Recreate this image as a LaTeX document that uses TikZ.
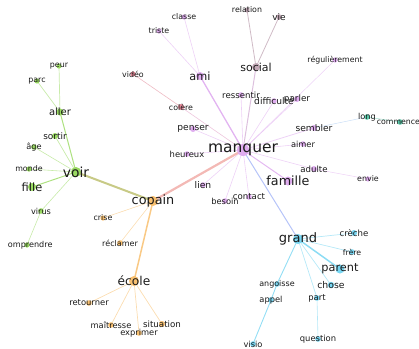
\documentclass[tikz,border=0pt]{standalone}
\usepackage{fontspec}
\setmainfont{DejaVu Sans}
\definecolor{purp}{HTML}{DFACEF}
\definecolor{gry}{HTML}{C4AAB8}
\definecolor{redp}{HTML}{E08494}
\definecolor{teal}{HTML}{58C8A8}
\definecolor{grn}{HTML}{9ADA62}
\definecolor{orng}{HTML}{F8C070}
\definecolor{blu}{HTML}{78D6F2}
\definecolor{txt}{HTML}{1A1A1A}
\newcommand\fs[1]{\fontsize{#1}{#1}\selectfont}
\tikzset{
  lbl/.style={inner sep=0pt, text=txt},
  ed/.style={line width=0.6pt, opacity=0.55},
  edm/.style={line width=1pt, opacity=0.75},
  edt/.style={line width=2pt, opacity=0.85},
}
\begin{document}
\begin{tikzpicture}[x=1pt,y=-1pt]
\useasboundingbox (0,0) rectangle (419,348);
\clip (0,0) rectangle (419,348);
% positions
\coordinate (manquer) at (243,150);
\coordinate (ami) at (200,76);
\coordinate (classe) at (184,17);
\coordinate (triste) at (159,31);
\coordinate (social) at (256,67);
\coordinate (relation) at (247,10);
\coordinate (vie) at (279,17);
\coordinate (video) at (133,74);
\coordinate (colere) at (181,107);
\coordinate (penser) at (193,129);
\coordinate (heureux) at (187,154);
\coordinate (ressentir) at (241,95);
\coordinate (difficulte) at (274,101);
\coordinate (parler) at (297,99);
\coordinate (regulierement) at (335,60);
\coordinate (long) at (367,117);
\coordinate (commencer) at (400,122);
\coordinate (sembler) at (314,128);
\coordinate (aimer) at (303,144);
\coordinate (adulte) at (314,169);
\coordinate (envie) at (368,179);
\coordinate (famille) at (288,181);
\coordinate (lien) at (203,185);
\coordinate (besoin) at (225,201);
\coordinate (contact) at (249,197);
\coordinate (copain) at (153,201);
\coordinate (voir) at (76,172);
\coordinate (aller) at (60,112);
\coordinate (peur) at (59,66);
\coordinate (parc) at (37,81);
\coordinate (sortir) at (55,136);
\coordinate (age) at (34,147);
\coordinate (monde) at (29,169);
\coordinate (fille) at (32,187);
\coordinate (virus) at (41,211);
\coordinate (comprendre) at (27,245);
\coordinate (crise) at (103,218);
\coordinate (reclamer) at (120,243);
\coordinate (ecole) at (134,281);
\coordinate (retourner) at (89,303);
\coordinate (maitresse) at (111,325);
\coordinate (exprimer) at (139,333);
\coordinate (situation) at (162,324);
\coordinate (grand) at (298,239);
\coordinate (creche) at (354,233);
\coordinate (frere) at (352,252);
\coordinate (parent) at (340,269);
\coordinate (chose) at (331,285);
\coordinate (angoisse) at (277,284);
\coordinate (appel) at (271,300);
\coordinate (part) at (317,298);
\coordinate (question) at (318,339);
\coordinate (visio) at (253,344);
% edges
\draw[ed, draw=purp, line width=1.3pt, opacity=0.9] (manquer) -- (ami);
\draw[ed, draw=purp] (ami) -- (triste);
\draw[ed, draw=purp] (ami) -- (classe);
\draw[edm, draw=purp!50!gry] (manquer) -- (social);
\draw[ed, draw=gry, line width=0.8pt, opacity=0.8] (social) -- (relation);
\draw[ed, draw=gry, line width=0.8pt, opacity=0.8] (social) -- (vie);
\draw[ed, draw=purp!50!redp] (manquer) -- (colere);
\draw[ed, draw=redp] (colere) -- (video);
\draw[ed, draw=purp] (manquer) -- (penser);
\draw[ed, draw=purp] (manquer) -- (heureux);
\draw[ed, draw=purp] (manquer) -- (ressentir);
\draw[ed, draw=purp] (manquer) -- (difficulte);
\draw[ed, draw=purp] (manquer) -- (parler);
\draw[ed, draw=purp, line width=0.5pt] (manquer) -- (regulierement);
\draw[ed, draw=purp, line width=0.8pt] (manquer) -- (sembler);
\draw[ed, draw=purp!40!blu, line width=0.5pt] (sembler) -- (long);
\draw[ed, draw=teal, line width=0.5pt] (long) -- (commencer);
\draw[ed, draw=purp] (manquer) -- (aimer);
\draw[ed, draw=purp] (manquer) -- (adulte);
\draw[ed, draw=purp, line width=0.5pt] (adulte) -- (envie);
\draw[edm, draw=purp, opacity=0.85] (manquer) -- (famille);
\draw[ed, draw=purp] (manquer) -- (lien);
\draw[ed, draw=purp] (manquer) -- (besoin);
\draw[ed, draw=purp] (manquer) -- (contact);
\draw[edt, draw=purp!50!orng!85!red, line width=2.2pt, opacity=0.7] (manquer) -- (copain);
\draw[edm, draw=purp!45!blu!80!blue, opacity=0.6] (manquer) -- (grand);
\draw[edt, draw=grn!50!orng!90!black, opacity=0.75] (copain) -- (voir);
\draw[ed, draw=orng] (copain) -- (crise);
\draw[ed, draw=orng] (copain) -- (reclamer);
\draw[edm, draw=orng, line width=1.5pt, opacity=0.85] (copain) -- (ecole);
\draw[ed, draw=orng, line width=0.7pt] (ecole) -- (retourner);
\draw[ed, draw=orng, line width=0.7pt] (ecole) -- (maitresse);
\draw[ed, draw=orng, line width=0.7pt] (ecole) -- (exprimer);
\draw[ed, draw=orng, line width=0.7pt] (ecole) -- (situation);
\draw[edm, draw=grn, opacity=0.8] (voir) -- (aller);
\draw[ed, draw=grn, line width=0.7pt] (aller) -- (peur);
\draw[ed, draw=grn, line width=0.7pt] (aller) -- (parc);
\draw[ed, draw=grn, line width=0.7pt] (voir) -- (sortir);
\draw[ed, draw=grn] (voir) -- (age);
\draw[ed, draw=grn] (voir) -- (monde);
\draw[edm, draw=grn, opacity=0.8] (voir) -- (fille);
\draw[ed, draw=grn] (voir) -- (virus);
\draw[ed, draw=grn] (virus) -- (comprendre);
\draw[ed, draw=blu, line width=0.7pt] (grand) -- (creche);
\draw[ed, draw=blu, line width=0.7pt] (grand) -- (frere);
\draw[edm, draw=blu, line width=1.5pt, opacity=0.85] (grand) -- (parent);
\draw[ed, draw=blu, line width=0.7pt] (grand) -- (chose);
\draw[ed, draw=blu, line width=0.7pt] (grand) -- (part);
\draw[ed, draw=blu] (part) -- (question);
\draw[ed, draw=blu, line width=0.9pt, opacity=0.8] (grand) -- (angoisse);
\draw[ed, draw=blu, line width=0.9pt, opacity=0.8] (angoisse) -- (appel);
\draw[ed, draw=blu, line width=0.9pt, opacity=0.8] (appel) -- (visio);
% dots
\foreach \n/\r in {manquer/6, ami/4, classe/2.6, triste/2.6, ressentir/2.8, difficulte/2.8, parler/3, regulierement/2.6, sembler/3, aimer/2.8, adulte/3, envie/2.6, famille/4.5, lien/2.8, besoin/2.8, contact/2.8, penser/3, heureux/2.8}
  \fill[purp] (\n) circle (\r);
\foreach \n/\r in {social/4, relation/2.6, vie/2.8}
  \fill[gry] (\n) circle (\r);
\foreach \n/\r in {video/2.6, colere/3}
  \fill[redp] (\n) circle (\r);
\foreach \n/\r in {long/2.8, commencer/2.8}
  \fill[teal] (\n) circle (\r);
\foreach \n/\r in {voir/5, aller/3.5, peur/2.6, parc/2.6, sortir/3, age/2.8, monde/2.6, fille/4, virus/2.8, comprendre/2.6}
  \fill[grn] (\n) circle (\r);
\foreach \n/\r in {copain/5, crise/2.6, reclamer/2.8, ecole/5, retourner/2.8, maitresse/2.8, exprimer/2.8, situation/3}
  \fill[orng] (\n) circle (\r);
\foreach \n/\r in {grand/5, creche/3, frere/2.8, parent/4.5, chose/3.2, angoisse/2.8, appel/2.8, part/2.8, question/2.8, visio/2.8}
  \fill[blu] (\n) circle (\r);
% labels
\node[lbl, font=\fs{15.5}] (manquerL) at (manquer) {manquer};
\node[lbl, font=\fs{11.3}] (amiL) at (ami) {ami};
\node[lbl, font=\fs{7.9}] (classeL) at (classe) {classe};
\node[lbl, font=\fs{7.9}] (tristeL) at (triste) {triste};
\node[lbl, font=\fs{11}] (socialL) at (social) {social};
\node[lbl, font=\fs{7.9}] (relationL) at (relation) {relation};
\node[lbl, font=\fs{9}] (vieL) at (vie) {vie};
\node[lbl, font=\fs{7.9}] (videoL) at (video) {vidéo};
\node[lbl, font=\fs{7.9}] (colereL) at (colere) {colère};
\node[lbl, font=\fs{9.1}] (penserL) at (penser) {penser};
\node[lbl, font=\fs{8.4}] (heureuxL) at (heureux) {heureux};
\node[lbl, font=\fs{8.6}] (ressentirL) at (ressentir) {ressentir};
\node[lbl, font=\fs{9.1}] (difficulteL) at (difficulte) {difficulté};
\node[lbl, font=\fs{8.8}] (parlerL) at (parler) {parler};
\node[lbl, font=\fs{7.8}] (regulierementL) at (regulierement) {régulièrement};
\node[lbl, font=\fs{8.2}] (longL) at (long) {long};
\node[lbl, font=\fs{7.8}] (commencerL) at (commencer) {commencer};
\node[lbl, font=\fs{9.1}] (semblerL) at (sembler) {sembler};
\node[lbl, font=\fs{8.3}] (aimerL) at (aimer) {aimer};
\node[lbl, font=\fs{8.6}] (adulteL) at (adulte) {adulte};
\node[lbl, font=\fs{7.9}] (envieL) at (envie) {envie};
\node[lbl, font=\fs{12.7}] (familleL) at (famille) {famille};
\node[lbl, font=\fs{9.2}] (lienL) at (lien) {lien};
\node[lbl, font=\fs{8.3}] (besoinL) at (besoin) {besoin};
\node[lbl, font=\fs{8.6}] (contactL) at (contact) {contact};
\node[lbl, font=\fs{12.8}] (copainL) at (copain) {copain};
\node[lbl, font=\fs{13.8}] (voirL) at (voir) {voir};
\node[lbl, font=\fs{10}] (allerL) at (aller) {aller};
\node[lbl, font=\fs{7.9}] (peurL) at (peur) {peur};
\node[lbl, font=\fs{7.9}] (parcL) at (parc) {parc};
\node[lbl, font=\fs{8.9}] (sortirL) at (sortir) {sortir};
\node[lbl, font=\fs{8.2}] (ageL) at (age) {âge};
\node[lbl, font=\fs{7.9}] (mondeL) at (monde) {monde};
\node[lbl, font=\fs{11.4}] (filleL) at (fille) {fille};
\node[lbl, font=\fs{8.2}] (virusL) at (virus) {virus};
\begin{scope}
\clip (8,0) rectangle (419,348);
\node[lbl, font=\fs{8.1}] (comprendreL) at (28,245) {comprendre};
\end{scope}
\node[lbl, font=\fs{7.9}] (criseL) at (crise) {crise};
\node[lbl, font=\fs{8}] (reclamerL) at (reclamer) {réclamer};
\node[lbl, font=\fs{12.2}] (ecoleL) at (ecole) {école};
\node[lbl, font=\fs{8.4}] (retournerL) at (retourner) {retourner};
\node[lbl, font=\fs{8.3}] (maitresseL) at (maitresse) {maîtresse};
\node[lbl, font=\fs{8.3}] (exprimerL) at (exprimer) {exprimer};
\node[lbl, font=\fs{8.7}] (situationL) at (situation) {situation};
\node[lbl, font=\fs{13}] (grandL) at (grand) {grand};
\node[lbl, font=\fs{8.6}] (crecheL) at (creche) {crèche};
\node[lbl, font=\fs{7.8}] (frereL) at (frere) {frère};
\node[lbl, font=\fs{11.3}] (parentL) at (parent) {parent};
\node[lbl, font=\fs{9.3}] (choseL) at (chose) {chose};
\node[lbl, font=\fs{8}] (angoisseL) at (angoisse) {angoisse};
\node[lbl, font=\fs{8.3}] (appelL) at (appel) {appel};
\node[lbl, font=\fs{8.4}] (partL) at (part) {part};
\node[lbl, font=\fs{8.4}] (questionL) at (question) {question};
\node[lbl, font=\fs{8.3}] (visioL) at (visio) {visio};
\end{tikzpicture}
\end{document}
